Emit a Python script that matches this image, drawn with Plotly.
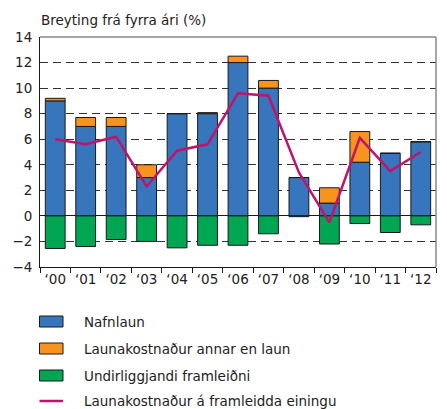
import plotly.graph_objects as go

years = ["‘00", "‘01", "‘02", "‘03", "‘04", "‘05", "‘06", "‘07", "‘08", "‘09", "‘10", "‘11", "‘12"]
nafnlaun = [9.0, 7.0, 7.0, 3.0, 8.0, 8.0, 12.0, 10.0, 3.0, 1.0, 4.2, 4.9, 5.8]
annar_kostn = [0.2, 0.7, 0.7, 1.0, 0.0, 0.08, 0.5, 0.6, 0.0, 1.2, 2.4, 0.0, 0.0]
framleidni = [-2.55, -2.4, -1.85, -2.0, -2.5, -2.3, -2.3, -1.4, -0.06, -2.2, -0.6, -1.3, -0.7]
eining = [6.0, 5.6, 6.2, 2.3, 5.1, 5.6, 9.6, 9.4, 3.4, -0.5, 6.1, 3.5, 5.0]

series_names = ["Nafnlaun", "Launakostnaður annar en laun", "Undirliggjandi framleiðni",
                "Launakostnaður á framleidda einingu"]
colors = ["#3776BC", "#F7941D", "#00A651", "#C0136A"]

FONT = "DejaVu Sans"
FS = 13.5
W, H = 447, 409
ML, MR, MT, MB = 40, 11, 37, 142

fig = go.Figure()
outline = dict(color="#1a1a1a", width=1)
for vals, name, col in zip([nafnlaun, annar_kostn, framleidni], series_names[:3], colors[:3]):
    fig.add_trace(go.Bar(x=years, y=vals, name=name, marker=dict(color=col, line=outline),
                         showlegend=False))
fig.add_trace(go.Scatter(x=years, y=eining, name=series_names[3], mode="lines",
                         line=dict(color=colors[3], width=2.5), showlegend=False))

# top/right frame
shapes = [
    dict(type="line", xref="paper", yref="paper", x0=0, x1=1, y0=1, y1=1,
         line=dict(color="#8a8a8a", width=1.5), layer="above"),
    dict(type="line", xref="paper", yref="paper", x0=1, x1=1, y0=0, y1=1,
         line=dict(color="#8a8a8a", width=1.5), layer="above"),
]
annotations = [
    dict(text="Breyting frá fyrra ári (%)", xref="paper", yref="paper", x=0, y=1,
         xanchor="left", yanchor="bottom", yshift=7, xshift=-1, showarrow=False,
         font=dict(family=FONT, size=FS, color="#222"))
]

# manual legend (pixel layout converted to paper coordinates)
pw = W - ML - MR
ph = H - MT - MB
def px_x(x):
    return (x - ML) / pw
def px_y(y):
    return (H - MB - y) / ph

row_y = [321.5, 348.5, 375.5, 401]
for i, name in enumerate(series_names):
    yc = row_y[i]
    if i < 3:
        shapes.append(dict(type="rect", xref="paper", yref="paper",
                           x0=px_x(39.5), x1=px_x(63), y0=px_y(yc - 5.5), y1=px_y(yc + 5.5),
                           fillcolor=colors[i], line=dict(color="#1a1a1a", width=1), layer="above"))
    else:
        shapes.append(dict(type="line", xref="paper", yref="paper",
                           x0=px_x(39.5), x1=px_x(63), y0=px_y(yc), y1=px_y(yc),
                           line=dict(color=colors[i], width=2.5), layer="above"))
    annotations.append(dict(text=name, xref="paper", yref="paper", x=px_x(82), y=px_y(yc),
                            xanchor="left", yanchor="middle", showarrow=False,
                            font=dict(family=FONT, size=FS, color="#222")))

fig.update_layout(
    width=W, height=H,
    margin=dict(l=ML, r=MR, t=MT, b=MB, autoexpand=False),
    paper_bgcolor="white", plot_bgcolor="white",
    barmode="relative", bargap=0.35,
    font=dict(family=FONT, size=FS, color="#222"),
    shapes=shapes, annotations=annotations,
    xaxis=dict(type="category", tickson="boundaries", ticks="outside", ticklen=5,
               tickangle=0, automargin=False,
               tickcolor="#1a1a1a", showline=True, linecolor="#1a1a1a", linewidth=1,
               showgrid=False, tickfont=dict(family=FONT, size=FS, color="#222")),
    yaxis=dict(range=[-4, 14], dtick=2, tick0=0, showgrid=True, gridcolor="#333",
               griddash="8px,5px", gridwidth=1, zeroline=True, zerolinecolor="#1a1a1a",
               zerolinewidth=1, showline=True, linecolor="#1a1a1a", linewidth=1,
               automargin=False,
               ticks="", ticklabelstandoff=4, tickfont=dict(family=FONT, size=FS, color="#222")),
)

fig.write_html("out.html", config={"displayModeBar": False},
               post_script="document.body.style.margin='0';document.body.style.overflow='hidden';")
